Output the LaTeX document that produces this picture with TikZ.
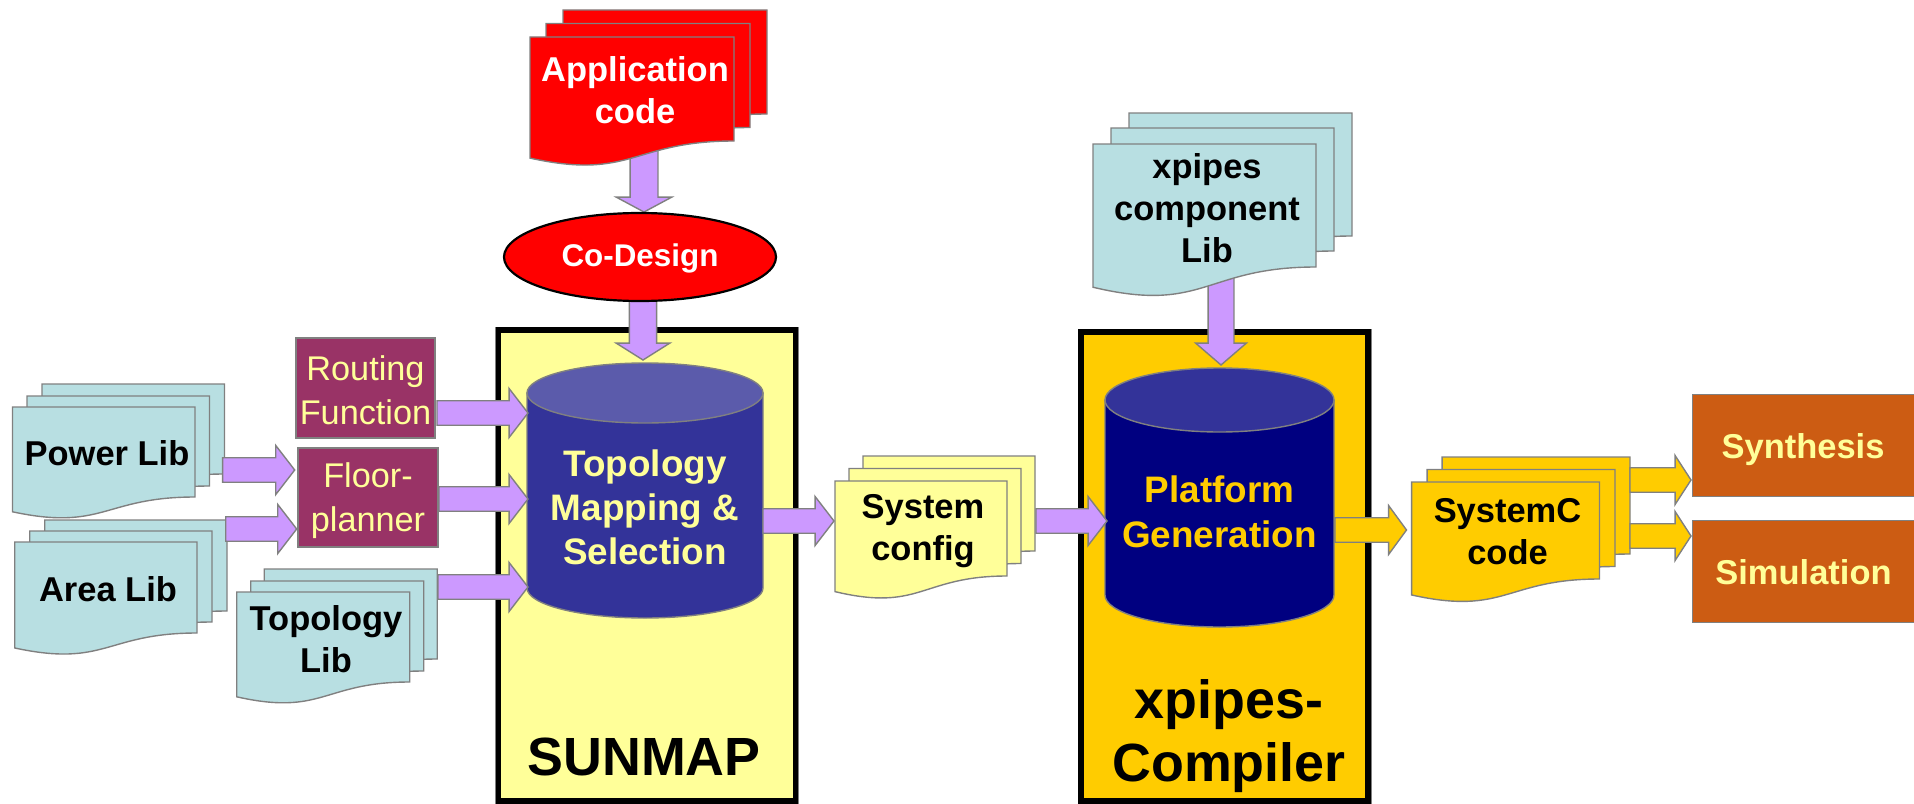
\documentclass[tikz,border=0pt]{standalone}
\usepackage{fontspec}
\setmainfont{Liberation Sans}
\definecolor{gedge}{HTML}{808080}
\definecolor{libfill}{HTML}{B8DFE2}
\definecolor{arrowfill}{HTML}{CC99FF}
\definecolor{softyellow}{HTML}{FFFF99}
\definecolor{amber}{HTML}{FFCC00}
\definecolor{wine}{HTML}{993366}
\definecolor{rust}{HTML}{CC5C13}
\definecolor{indigo}{HTML}{333399}
\definecolor{indigotop}{HTML}{5B5BAB}
\definecolor{navyblue}{HTML}{000080}
\newcommand{\mydoc}[5]{%
  \pgfmathsetmacro\hh{(#4-#2)/0.802}%
  \pgfmathsetmacro\xm{(#1+#3)/2}%
  \pgfmathsetmacro\yc{#4+0.3056*\hh}%
  \pgfmathsetmacro\yl{#4+0.1319*\hh}%
  \draw[docedge,fill=#5] (#1,#2) -- (#3,#2) -- (#3,#4) .. controls (\xm,#4) and (\xm,\yc) .. (#1,\yl) -- cycle;}
% fill, x0,y0,x1,y1, dx2,dy2, dx3,dy3
\newcommand{\mdoc}[9]{%
  \begin{scope}[shift={(#8,#9)}]\mydoc{#2}{#3}{#4}{#5}{#1}\end{scope}%
  \begin{scope}[shift={(#6,#7)}]\mydoc{#2}{#3}{#4}{#5}{#1}\end{scope}%
  \mydoc{#2}{#3}{#4}{#5}{#1}}
\newcommand{\cyl}[7]{% x0,x1,ytop,yside,ybotside,fillbody,filltop
  \pgfmathsetmacro\rx{(#2-#1)/2}\pgfmathsetmacro\ry{#4-#3}\pgfmathsetmacro\cx{(#1+#2)/2}%
  \draw[docedge,fill=#6] (#1,#4) -- (#1,#5) arc[start angle=180,end angle=360,x radius=\rx,y radius=-\ry] -- (#2,#4) -- cycle;
  \draw[docedge,fill=#7] (\cx,#4) ellipse[x radius=\rx,y radius=\ry];}
% block arrow from named point to named point: from, to, fill, half shaft, half head, head length
\newcommand{\blockarrow}[6]{%
  \pgfpointanchor{#1}{center}\pgfgetlastxy{\ax}{\ay}%
  \pgfpointanchor{#2}{center}\pgfgetlastxy{\bx}{\by}%
  \pgfmathsetmacro\bang{atan2(\by-\ay,\bx-\ax)}%
  \pgfmathsetmacro\blen{veclen(\bx-\ax,\by-\ay)}%
  \pgfmathsetmacro\bbase{\blen-#6}%
  \draw[docedge,fill=#3,shift={(#1)},rotate=\bang,x=1pt,y=1pt]
    (0,-#4) -- (\bbase,-#4) -- (\bbase,-#5) -- (\blen,0) -- (\bbase,#5) -- (\bbase,#4) -- (0,#4) -- cycle;}
\newcommand{\sidearrow}[2]{\blockarrow{#1}{#2}{arrowfill}{12.3}{24.6}{19}}
\newcommand{\amberarrow}[3]{\blockarrow{#1}{#2}{amber}{12.3}{24.6}{#3}}
\tikzset{
  docedge/.style={draw=gedge,line width=1.4},
  heavybox/.style={draw=black,line width=5.5,preaction={draw=gedge,line width=7}},
  bx/.style={font=\fontsize{34.6}{42}\selectfont\bfseries,align=center,inner sep=0},
  rg/.style={font=\fontsize{34.4}{44.5}\selectfont,align=center,inner sep=0,text=softyellow},
  cy/.style={font=\fontsize{37}{44}\selectfont\bfseries,align=center,inner sep=0,text=softyellow},
  big/.style={font=\fontsize{54}{62}\selectfont\bfseries,align=center,inner sep=0},
}
\begin{document}
\begin{tikzpicture}[x=1bp,y=-1bp]
\useasboundingbox (0,0) rectangle (1914,804);
\clip (0,0) rectangle (1914,804);
% tool boxes
\draw[heavybox,fill=softyellow] (498.5,330) rectangle (795.5,801);
\draw[heavybox,fill=amber] (1081,332) rectangle (1368,801);
% cylinders
\cyl{527}{763}{363}{393}{588}{indigo}{indigotop}
\cyl{1105}{1334}{368}{400}{595}{navyblue}{indigo}
\node[cy] (topo) at (645,507) {Topology\\Mapping \&\\Selection};
\node[cy,text=amber,font=\fontsize{37}{45}\selectfont\bfseries] (plat) at (1219.5,512) {Platform\\Generation};
% named connector ends
\coordinate (appOut) at (644,140);   \coordinate (codeIn) at (644,212);
\coordinate (codeOut) at (643,300);  \coordinate (topoTop) at (643,360);
\coordinate (xpOut) at (1221,250);   \coordinate (platTop) at (1221,365);
\coordinate (routOut) at (437,413);  \coordinate (topoA) at (528,413);
\coordinate (floorOut) at (439,499); \coordinate (topoB) at (528,499);
\coordinate (tlibOut) at (438,587);  \coordinate (topoC) at (528,587);
\coordinate (powOut) at (222.6,470); \coordinate (floorA) at (294.7,470);
\coordinate (areaOut) at (225.7,529);\coordinate (floorB) at (296.7,529);
\coordinate (topoOut) at (763,521);  \coordinate (sysIn) at (834,521);
\coordinate (sysOut) at (1036,521);  \coordinate (platIn) at (1107,521);
\coordinate (platOut) at (1335,530); \coordinate (scIn) at (1406.5,530);
\coordinate (scOutA) at (1630,480);  \coordinate (synIn) at (1691,480);
\coordinate (scOutB) at (1630,536);  \coordinate (simIn) at (1691,536);
% arrows tucked behind shapes
\blockarrow{appOut}{codeIn}{arrowfill}{14}{28}{15}
\blockarrow{codeOut}{topoTop}{arrowfill}{13.7}{27}{17}
\blockarrow{xpOut}{platTop}{arrowfill}{13}{25.5}{22}
% documents
\mdoc{libfill}{14.7}{542}{197}{633}{15}{-11}{30}{-22}
\mdoc{libfill}{12.5}{407}{195}{497}{14.5}{-11}{29.5}{-23}
\mdoc{libfill}{236.7}{592}{409.7}{682}{14}{-11}{27.5}{-23}
\mdoc{red}{530}{37}{734}{141}{16}{-13.5}{33}{-27}
\mdoc{libfill}{1093}{144}{1316}{267}{18}{-16}{36}{-31}
\mdoc{softyellow}{835}{481}{1007}{576}{14}{-12.5}{28}{-25}
\mdoc{amber}{1411.6}{482}{1599.5}{579}{15.5}{-12.5}{30.5}{-25}
\node[bx] (power) at (107,453) {Power Lib};
\node[bx] (area) at (108,589) {Area Lib};
\node[bx] (tlib) at (326,639) {Topology\\Lib};
\node[bx,text=white] (app) at (635,90) {Application\\code};
\node[bx] (xp) at (1207,208) {xpipes\\component\\Lib};
\node[bx] (sys) at (923,531) {System\\config};
\node[bx] (sc) at (1507.5,532) {SystemC\\code};
% ellipse
\draw[black,line width=2.2,fill=red] (640,257) ellipse[x radius=136,y radius=44];
\node[font=\fontsize{31.5}{38}\selectfont\bfseries,text=white,inner sep=0] (code) at (640,258) {Co-Design};
% boxes
\node[draw=gedge,line width=1.4,fill=wine,minimum width=139bp,minimum height=100bp,inner sep=0] (rout) at (365.5,388) {};
\node[rg] at ([yshift=-2bp]rout.center) {Routing\\Function};
\node[draw=gedge,line width=1.4,fill=wine,minimum width=140bp,minimum height=99bp,inner sep=0] (floor) at (368,497.5) {};
\node[rg] at ([yshift=-3bp]floor.center) {Floor-\\planner};
\node[draw=gedge,line width=1.4,fill=rust,minimum width=260bp,minimum height=102bp,inner sep=0,anchor=north west] (syn) at (1691.5,394) {};
\node[draw=gedge,line width=1.4,fill=rust,minimum width=260bp,minimum height=102bp,inner sep=0,anchor=north west] (sim) at (1691.5,520) {};
\node[bx,text=softyellow] at (1803,450) {Synthesis};
\node[bx,text=softyellow] at (1803.5,572) {Simulation};
% titles
\node[big] (sunmap) at (644,757) {SUNMAP};
\node[big,font=\fontsize{54}{63}\selectfont\bfseries] (xpc) at (1229,736) {xpipes-\\Compiler};
% side arrows
\sidearrow{routOut}{topoA}
\sidearrow{floorOut}{topoB}
\sidearrow{tlibOut}{topoC}
\sidearrow{powOut}{floorA}
\sidearrow{areaOut}{floorB}
\sidearrow{topoOut}{sysIn}
\sidearrow{sysOut}{platIn}
\amberarrow{platOut}{scIn}{18}
\amberarrow{scOutA}{synIn}{16}
\amberarrow{scOutB}{simIn}{16}
\end{tikzpicture}
\end{document}
